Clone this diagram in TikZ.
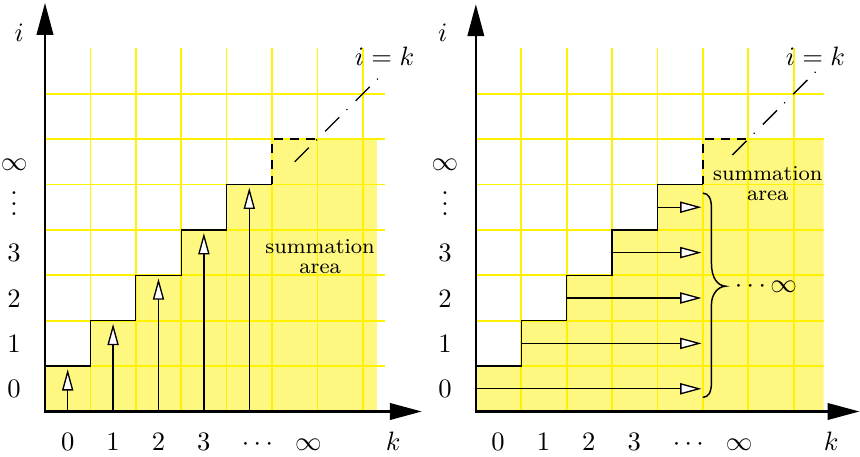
\documentclass[tikz,border=0pt]{standalone}
\usetikzlibrary{arrows.meta}
\begin{document}
\begin{tikzpicture}[x=0.6cm,y=0.6cm,
  sumfill/.style={fill=yellow!50},
  gridline/.style={draw=yellow, line width=0.65pt},
  axis/.style={line width=0.85pt, {Triangle[length=12pt,width=6.2pt]}-{Triangle[length=12pt,width=6.2pt]}},
  stair/.style={line width=0.5pt},
  stairdash/.style={line width=0.5pt, dash pattern=on 3.2pt off 2.8pt},
  sumarrow/.style={line width=0.5pt, -{Triangle[length=8pt,width=4.2pt,fill=white]}},
  diag/.style={line width=0.5pt, dash pattern=on 7.5pt off 3.9pt on 0.4pt off 4.4pt},
  lbl/.style={anchor=base, inner sep=0pt},
  dotslbl/.style={anchor=base, inner sep=0pt, text height=9.2pt},
  sumtext/.style={align=center, font=\fontsize{8}{7.6}\selectfont}]
\useasboundingbox (-0.991,-1.002) rectangle (17.952,9.064);

% ---------------- left panel ----------------
\begin{scope}
  \fill[sumfill] (0,0) -- (0,1) -- (1,1) -- (1,2) -- (2,2) -- (2,3) -- (3,3) -- (3,4)
     -- (4,4) -- (4,5) -- (5,5) -- (5,6) -- (7.31,6) -- (7.31,0) -- cycle;
  \foreach \y in {1,...,7} \draw[gridline] (0,\y) -- (7.49,\y);
  \foreach \x in {1,...,7} \draw[gridline] (\x,0) -- (\x,8);
  \draw[stair] (0,1) -| (1,2) -| (2,3) -| (3,4) -| (4,5) -- (5,5);
  \draw[stairdash] (5,5) |- (6,6);
  \foreach \i in {0,...,4} \draw[sumarrow] (\i+0.5,0) -- (\i+0.5,\i+0.93);
  \draw[diag] (5.5,5.5) -- (7.33,7.33);
  \node[lbl] (Lik) at (7.48,7.63) {$i=k$};
  \node[sumtext] (Lsum) at (6.06,3.41) {summation\\area};
  \draw[axis] (0,9) -- (0,0) -- (8.3,0);
  \node[lbl] (Li) at (-0.57,8.15) {$i$};
  \node[lbl] (Lk) at (7.67,-0.87) {$k$};
  \foreach \n in {0,...,3} {
    \node[lbl] (Lx\n) at (\n+0.5,-0.87) {$\n$};
    \node[lbl] (Ly\n) at (-0.68,\n+0.3) {$\n$};
  }
  \node[lbl] (Lxd) at (4.68,-0.87) {$\cdots$};
  \node[lbl] (Lxi) at (5.8,-0.87) {$\infty$};
  \node[dotslbl] (Lyd) at (-0.68,4.31) {$\vdots$};
  \node[lbl] (Lyi) at (-0.68,5.3) {$\infty$};
\end{scope}

% ---------------- right panel ----------------
\begin{scope}[xshift=9.49*0.6cm]
  \fill[sumfill] (0,0) -- (0,1) -- (1,1) -- (1,2) -- (2,2) -- (2,3) -- (3,3) -- (3,4)
     -- (4,4) -- (4,5) -- (5,5) -- (5,6) -- (7.66,6) -- (7.66,0) -- cycle;
  \foreach \y in {1,...,7} \draw[gridline] (0,\y) -- (7.66,\y);
  \foreach \x in {1,...,7} \draw[gridline] (\x,0) -- (\x,8);
  \draw[stair] (0,1) -| (1,2) -| (2,3) -| (3,4) -| (4,5) -- (5,5);
  \draw[stairdash] (5,5) |- (6,6);
  \draw[sumarrow] (0,0.5) -- (4.97,0.5);
  \foreach \i in {1,...,4} \draw[sumarrow] (\i,\i+0.5) -- (4.97,\i+0.5);
  \draw[line width=0.55pt] (5.0,4.81) .. controls (5.13,4.80) and (5.19,4.70) .. (5.19,4.46)
     -- (5.19,3.26) .. controls (5.19,2.95) and (5.32,2.77) .. (5.5,2.76)
     .. controls (5.32,2.75) and (5.19,2.57) .. (5.19,2.36)
     -- (5.19,0.66) .. controls (5.19,0.42) and (5.13,0.32) .. (5.0,0.31);
  \node[anchor=west] (Rinf) at (5.5,2.76) {$\cdots\infty$};
  \draw[diag] (5.65,5.65) -- (7.5,7.5);
  \node[lbl] (Rik) at (7.48,7.63) {$i=k$};
  \node[sumtext] (Rsum) at (6.43,5.02) {summation\\area};
  \draw[axis] (0,8.97) -- (0,0) -- (8.45,0);
  \node[lbl] (Ri) at (-0.73,8.15) {$i$};
  \node[lbl] (Rk) at (7.83,-0.87) {$k$};
  \foreach \n in {0,...,3} {
    \node[lbl] (Rx\n) at (\n+0.49,-0.87) {$\n$};
    \node[lbl] (Ry\n) at (-0.68,\n+0.3) {$\n$};
  }
  \node[lbl] (Rxd) at (4.68,-0.87) {$\cdots$};
  \node[lbl] (Rxi) at (5.8,-0.87) {$\infty$};
  \node[dotslbl] (Ryd) at (-0.68,4.31) {$\vdots$};
  \node[lbl] (Ryi) at (-0.68,5.3) {$\infty$};
\end{scope}
\end{tikzpicture}
\end{document}
